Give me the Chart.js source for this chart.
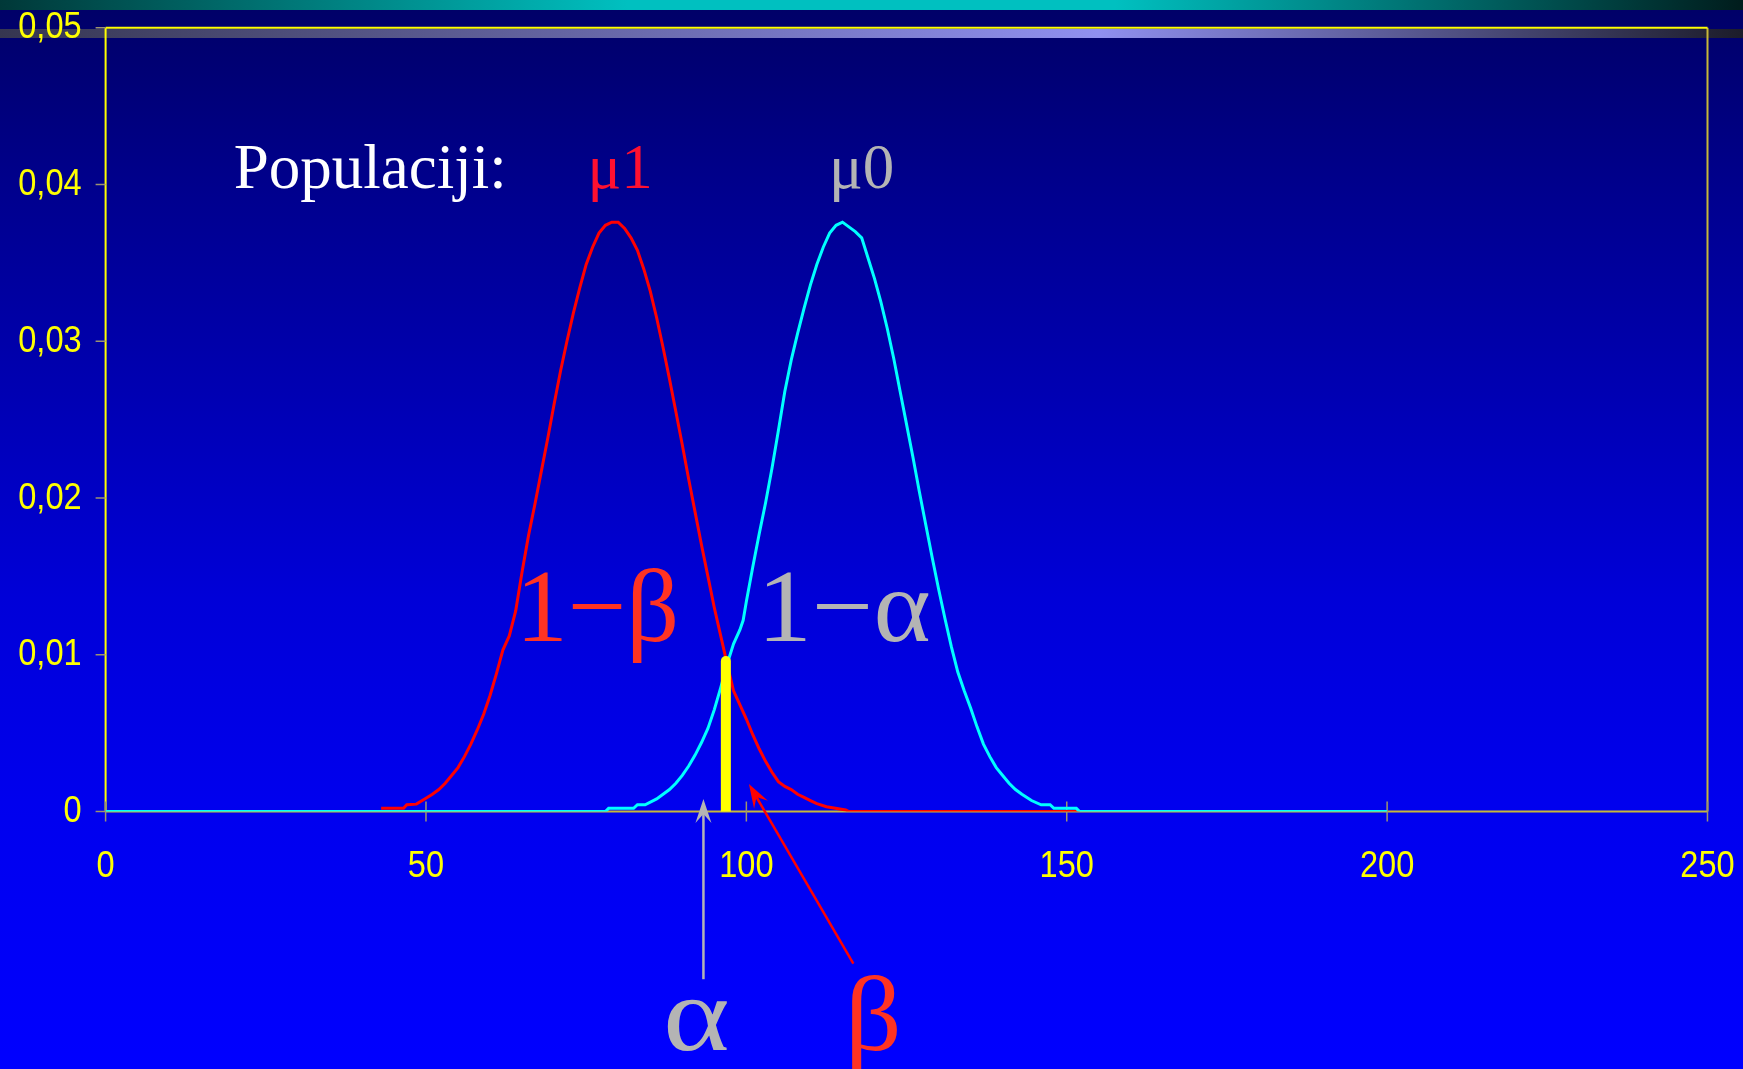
<!DOCTYPE html>
<html>
<head>
<meta charset="utf-8">
<script src="https://cdn.jsdelivr.net/npm/chart.js@4/dist/chart.umd.min.js"></script>
<style>
  html, body { margin: 0; padding: 0; background: #000066; overflow: hidden; }
  #c { display: block; width: 1743px; height: 1069px; }
</style>
</head>
<body>
<canvas id="c" width="1743" height="1069"></canvas>
<script>
// Alternative population (mu1), sampled density values
const redX = [43, 45, 46.5, 47, 48.5, 50, 51, 52, 53, 54, 55, 56, 57, 58, 59, 60, 61, 62, 63, 64, 65, 66, 67, 68, 69, 70, 71, 72, 73, 74, 75, 76, 77, 78, 79, 80, 81, 82, 83, 84, 85, 86, 87, 88, 89, 90, 91, 92, 93, 94, 95, 96, 97, 98, 99, 100, 101, 102, 103, 104, 105, 106, 107, 108, 109, 110, 111, 112.5, 115.5, 116, 152];
const redY = [0.0002, 0.0002, 0.0002, 0.00043, 0.00047, 0.00085, 0.0011, 0.0014, 0.0018, 0.0023, 0.0028, 0.0035, 0.0043, 0.0052, 0.0062, 0.0074, 0.0088, 0.0103, 0.0112, 0.0128, 0.0153, 0.0176, 0.0196, 0.0217, 0.0238, 0.0260, 0.0281, 0.0300, 0.0318, 0.0334, 0.0349, 0.0360, 0.0369, 0.0374, 0.0376, 0.0376, 0.0372, 0.0366, 0.0358, 0.0346, 0.0332, 0.0315, 0.0296, 0.0276, 0.0255, 0.0234, 0.0212, 0.0191, 0.0170, 0.0150, 0.0130, 0.0112, 0.0094, 0.0077, 0.0068, 0.0059, 0.0049, 0.0040, 0.0032, 0.0025, 0.0019, 0.0016, 0.0014, 0.0011, 0.0009, 0.0007, 0.0005, 0.0003, 0.0001, 0, 0];

// Null-hypothesis population (mu0), sampled density values
const cyanX = [0, 78, 78.5, 82.4, 83, 84.2, 86, 87, 88, 89, 90, 91, 92, 93, 94, 95, 96, 97, 98, 99, 99.5, 100, 101, 102, 103, 104, 105, 106, 107, 108, 109, 110, 111, 112, 113, 114, 115, 116, 117, 118, 119, 120, 121, 122, 123, 124, 125, 126, 127, 128, 129, 130, 131, 132, 133, 134, 135, 136, 137, 138, 139, 140, 141, 142, 143, 144.5, 146, 147.4, 148, 151.5, 152, 200];
const cyanY = [0, 0, 0.0002, 0.0002, 0.00043, 0.00043, 0.0008, 0.0011, 0.0014, 0.0018, 0.0023, 0.0029, 0.0036, 0.0044, 0.0053, 0.0065, 0.0079, 0.0094, 0.0107, 0.0116, 0.0122, 0.0134, 0.0156, 0.0177, 0.0197, 0.0219, 0.0243, 0.0268, 0.0288, 0.0305, 0.0321, 0.0336, 0.0349, 0.0360, 0.0369, 0.0374, 0.0376, 0.0373, 0.0370, 0.0366, 0.0353, 0.0340, 0.0325, 0.0308, 0.0289, 0.0268, 0.0247, 0.0226, 0.0204, 0.0183, 0.0162, 0.0142, 0.0123, 0.0105, 0.0089, 0.0077, 0.0066, 0.0054, 0.0043, 0.0035, 0.0028, 0.0023, 0.0018, 0.0014, 0.0011, 0.0007, 0.00043, 0.00043, 0.0002, 0.0002, 0, 0];

// Critical value marker
const criticalX = 96.8;
const criticalY = 0.0096;

// Axis ticks
const xTicks = [0, 50, 100, 150, 200, 250];
const xTickLabels = ['0', '50', '100', '150', '200', '250'];
const yTicks = [0, 0.01, 0.02, 0.03, 0.04, 0.05];
const yTickLabels = ['0', '0,01', '0,02', '0,03', '0,04', '0,05'];

// Text labels placed in data coordinates (stretch = horizontal scale of the glyphs)
const textLabels = [
  { text: 'Populaciji:', x: 20.0, y: 0.0398, color: '#ffffff', size: 63, align: 'left', stretch: 1 },
  { text: 'μ1', x: 75.2, y: 0.0398, color: '#ff1030', size: 63, align: 'left', stretch: 1 },
  { text: 'μ0', x: 112.9, y: 0.0398, color: '#b4b4b4', size: 63, align: 'left', stretch: 1 },
  { text: '1−β', x: 64.0, y: 0.0109, color: '#ff3322', size: 104, align: 'left', stretch: 1 },
  { text: '1−α', x: 101.7, y: 0.0109, color: '#b4b4b4', size: 104, align: 'left', stretch: 1.05 },
  { text: 'α', x: 92.2, y: -0.0152, color: '#b4b4b4', size: 106, align: 'center', stretch: 1.2 },
  { text: 'β', x: 119.8, y: -0.0152, color: '#ff3322', size: 106, align: 'center', stretch: 1.05 }
];

// Pointer arrows: from (x0,y0) to tip (x1,y1), data coordinates
const arrows = [
  { x0: 93.3, y0: -0.0107, x1: 93.3, y1: 0.0008, color: '#b4b4b4' },
  { x0: 116.7, y0: -0.0097, x1: 100.4, y1: 0.00175, color: '#ff0000' }
];

// Axis label styling (condensed sans numerals)
const tickFont = '37px "Liberation Sans", Arial, sans-serif';
const tickStretch = 0.88;
const tickColor = '#ffff00';

const toPoints = (xs, ys) => xs.map((x, i) => ({ x: x, y: ys[i] }));

function drawCondensed(ctx, text, x, y, align) {
  ctx.save();
  ctx.translate(x, y);
  ctx.scale(tickStretch, 1);
  ctx.textAlign = align;
  ctx.fillText(text, 0, 0);
  ctx.restore();
}

const backdrop = {
  id: 'backdrop',
  beforeDraw(chart) {
    const ctx = chart.ctx;
    const W = chart.width, H = chart.height;
    ctx.save();
    const g = ctx.createLinearGradient(0, 0, 0, H);
    g.addColorStop(0, '#000066');
    g.addColorStop(0.19, '#000090');
    g.addColorStop(0.56, '#0000d8');
    g.addColorStop(0.75, '#0000ee');
    g.addColorStop(1, '#0000ff');
    ctx.fillStyle = g;
    ctx.fillRect(0, 0, W, H);
    // top title bar
    const t = ctx.createLinearGradient(0, 0, W, 0);
    t.addColorStop(0, '#003838');
    t.addColorStop(0.36, '#00c0c0');
    t.addColorStop(0.64, '#00c0c0');
    t.addColorStop(1, '#001c1c');
    ctx.fillStyle = t;
    ctx.fillRect(0, 0, W, 10);
    // lighter band under the title
    const b = ctx.createLinearGradient(0, 0, W, 0);
    b.addColorStop(0, '#363650');
    b.addColorStop(0.63, '#9090f0');
    b.addColorStop(1, '#1c1c2a');
    ctx.fillStyle = b;
    ctx.fillRect(0, 29, W, 9);
    ctx.restore();
  },
  beforeDatasetsDraw(chart) {
    const ctx = chart.ctx;
    const a = chart.chartArea;
    const xs = chart.scales.x, ys = chart.scales.y;
    ctx.save();
    ctx.lineWidth = 2;
    // frame
    ctx.strokeStyle = '#c8b838';
    ctx.beginPath();
    ctx.moveTo(a.left, a.bottom); ctx.lineTo(a.right, a.bottom);
    ctx.moveTo(a.right, a.bottom); ctx.lineTo(a.right, a.top);
    ctx.stroke();
    ctx.strokeStyle = '#ffff00';
    ctx.beginPath();
    ctx.moveTo(a.left, a.top); ctx.lineTo(a.right, a.top);
    ctx.moveTo(a.left, a.top); ctx.lineTo(a.left, a.bottom);
    ctx.stroke();
    // tick marks
    ctx.strokeStyle = '#9c9470';
    ctx.lineWidth = 1.5;
    ctx.beginPath();
    xTicks.forEach(v => {
      const px = xs.getPixelForValue(v);
      ctx.moveTo(px, a.bottom - 10); ctx.lineTo(px, a.bottom + 10);
    });
    yTicks.forEach(v => {
      const py = ys.getPixelForValue(v);
      ctx.moveTo(a.left - 10, py); ctx.lineTo(a.left, py);
    });
    ctx.stroke();
    // tick labels
    ctx.font = tickFont;
    ctx.fillStyle = tickColor;
    ctx.textBaseline = 'alphabetic';
    xTicks.forEach((v, i) => {
      drawCondensed(ctx, xTickLabels[i], xs.getPixelForValue(v), a.bottom + 65.5, 'center');
    });
    yTicks.forEach((v, i) => {
      drawCondensed(ctx, yTickLabels[i], a.left - 24, ys.getPixelForValue(v) + 10.5, 'right');
    });
    ctx.restore();
  },
  afterDatasetsDraw(chart) {
    const ctx = chart.ctx;
    const xs = chart.scales.x, ys = chart.scales.y;
    ctx.save();
    arrows.forEach(ar => {
      const x0 = xs.getPixelForValue(ar.x0), y0 = ys.getPixelForValue(ar.y0);
      const x1 = xs.getPixelForValue(ar.x1), y1 = ys.getPixelForValue(ar.y1);
      const ang = Math.atan2(y1 - y0, x1 - x0);
      const len = 24, half = 8, notch = 15;
      ctx.strokeStyle = ar.color;
      ctx.fillStyle = ar.color;
      ctx.lineWidth = 2.5;
      ctx.beginPath();
      ctx.moveTo(x0, y0);
      ctx.lineTo(x1 - Math.cos(ang) * notch, y1 - Math.sin(ang) * notch);
      ctx.stroke();
      const ca = Math.cos(ang), sa = Math.sin(ang);
      ctx.beginPath();
      ctx.moveTo(x1, y1);
      ctx.lineTo(x1 - ca * len - sa * half, y1 - sa * len + ca * half);
      ctx.lineTo(x1 - ca * notch, y1 - sa * notch);
      ctx.lineTo(x1 - ca * len + sa * half, y1 - sa * len - ca * half);
      ctx.closePath();
      ctx.fill();
    });
    ctx.textBaseline = 'alphabetic';
    textLabels.forEach(l => {
      ctx.save();
      ctx.font = l.size + 'px "Liberation Serif", "Times New Roman", serif';
      ctx.fillStyle = l.color;
      ctx.textAlign = l.align;
      ctx.translate(xs.getPixelForValue(l.x), ys.getPixelForValue(l.y));
      ctx.scale(l.stretch, 1);
      ctx.fillText(l.text, 0, 0);
      ctx.restore();
    });
    ctx.restore();
  }
};

new Chart(document.getElementById('c'), {
  type: 'line',
  data: {
    datasets: [
      {
        data: toPoints([criticalX, criticalX], [0, criticalY]),
        borderColor: '#ffff00',
        borderWidth: 10,
        borderCapStyle: 'round',
        pointRadius: 0,
        clip: { left: 10, top: 10, right: 10, bottom: 0 }
      },
      {
        data: toPoints(cyanX, cyanY),
        borderColor: '#00ffff',
        borderWidth: 3,
        pointRadius: 0,
        tension: 0
      },
      {
        data: toPoints(redX, redY),
        borderColor: '#ff0000',
        borderWidth: 3,
        pointRadius: 0,
        tension: 0
      }
    ]
  },
  options: {
    responsive: false,
    animation: false,
    devicePixelRatio: 1,
    layout: { padding: { top: 27.8, right: 35.5, left: 0, bottom: 0 } },
    plugins: { legend: { display: false }, tooltip: { enabled: false } },
    scales: {
      x: {
        type: 'linear',
        min: 0, max: 250,
        afterBuildTicks(scale) { scale.ticks = xTicks.map(v => ({ value: v })); },
        afterFit(scale) {
          scale.height = 257.5;
          scale.paddingLeft = 0;
          scale.paddingRight = 0;
        },
        grid: { display: false, drawTicks: false },
        border: { display: false },
        ticks: { display: false }
      },
      y: {
        type: 'linear',
        min: 0, max: 0.05,
        afterBuildTicks(scale) { scale.ticks = yTicks.map(v => ({ value: v })); },
        afterFit(scale) {
          scale.width = 105.6;
          scale.paddingTop = 0;
          scale.paddingBottom = 0;
        },
        grid: { display: false, drawTicks: false },
        border: { display: false },
        ticks: { display: false }
      }
    }
  },
  plugins: [backdrop]
});
</script>
</body>
</html>
